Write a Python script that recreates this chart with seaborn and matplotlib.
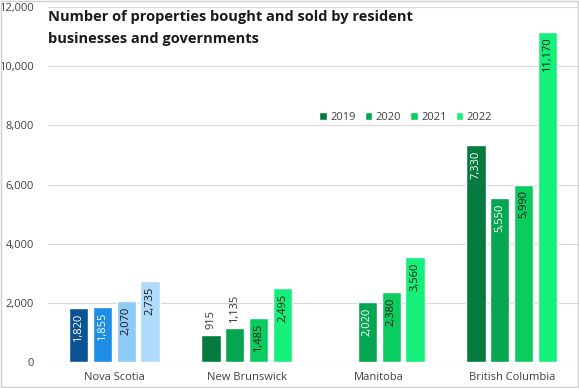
import matplotlib
matplotlib.use("Agg")
import matplotlib.pyplot as plt
import seaborn as sns
import pandas as pd
import numpy as np
from matplotlib.patches import Rectangle
from matplotlib.ticker import FuncFormatter

provinces = ["Nova Scotia", "New Brunswick", "Manitoba", "British Columbia"]
years = ["2019", "2020", "2021", "2022"]
v2019 = [1820, 915, np.nan, 7330]
v2020 = [1855, 1135, 2020, 5550]
v2021 = [2070, 1485, 2380, 5990]
v2022 = [2735, 2495, 3560, 11170]
title = "Number of properties bought and sold by resident\nbusinesses and governments"

green_colors = ["#057a3e", "#05a652", "#0bcd5f", "#14f07a"]
blue_colors = ["#0b5494", "#1e8de6", "#8fc9f5", "#b0dafa"]
label_colors = ["white", "white", "#1a1a1a", "#1a1a1a"]
outside_labels = {("New Brunswick", "2019"), ("New Brunswick", "2020")}

rows = []
for y, vals in zip(years, [v2019, v2020, v2021, v2022]):
    for p, v in zip(provinces, vals):
        rows.append({"province": p, "year": y, "value": v})
df = pd.DataFrame(rows)

sns.set_style("white")
plt.rcParams["font.family"] = ["Open Sans", "DejaVu Sans"]

fig = plt.figure(figsize=(5.79, 3.88), dpi=100)
ax = fig.add_axes([48/579, 26/388, 530/579, 355/388])

sns.barplot(data=df, x="province", y="value", hue="year", hue_order=years,
            order=provinces, palette=green_colors, width=0.72, gap=0.2,
            saturation=1, errorbar=None, ax=ax, zorder=3)

for cont in ax.containers:
    for bar in cont:
        h = bar.get_height()
        if not np.isfinite(h) or h == 0:
            continue
        xc = bar.get_x() + bar.get_width() / 2
        pi = int(round(xc))
        yi = int(round((xc - pi) / 0.18 + 1.5))
        yi = max(0, min(3, yi))
        prov = provinces[pi]
        if pi == 0:
            bar.set_facecolor(blue_colors[yi])
        txt = f"{int(h):,}"
        if (prov, years[yi]) in outside_labels:
            ax.annotate(txt, (xc, h), xytext=(0, 4), textcoords="offset points",
                        rotation=90, ha="center", va="bottom", fontsize=8,
                        color="#333333")
        else:
            ax.annotate(txt, (xc, h), xytext=(0, -4), textcoords="offset points",
                        rotation=90, ha="center", va="top", fontsize=8,
                        color=label_colors[yi])

ax.set_ylim(0, 12000)
ax.set_xlim(-0.5, 3.5)
ax.set_yticks(np.arange(0, 12001, 2000))
ax.yaxis.set_major_formatter(FuncFormatter(lambda v, p: f"{int(v):,}"))
ax.grid(axis="y", color="#d9d9d9", linewidth=0.8, zorder=0)
ax.set_axisbelow(True)
for s in ax.spines.values():
    s.set_visible(False)
ax.tick_params(axis="both", length=0, labelsize=8, colors="#404040")
ax.tick_params(axis="y", pad=10)
ax.tick_params(axis="x", pad=7)
ax.set_xlabel("")
ax.set_ylabel("")

leg = ax.legend(loc="center", bbox_to_anchor=(0.675, 0.688), ncol=4, frameon=False,
                fontsize=8, handlelength=0.7, handleheight=0.7, handletextpad=0.3,
                columnspacing=0.8)
for t in leg.get_texts():
    t.set_color("#404040")

fig.text(48/579, 1 - 10/388, title, ha="left", va="top", fontsize=10.5,
         fontweight="bold", color="#1a1a1a", linespacing=1.7)

fig.patches.append(Rectangle((0.002, 0.002), 0.996, 0.996, transform=fig.transFigure,
                             fill=False, edgecolor="#d0d0d0", linewidth=1))

fig.savefig("out.png", dpi=100)
